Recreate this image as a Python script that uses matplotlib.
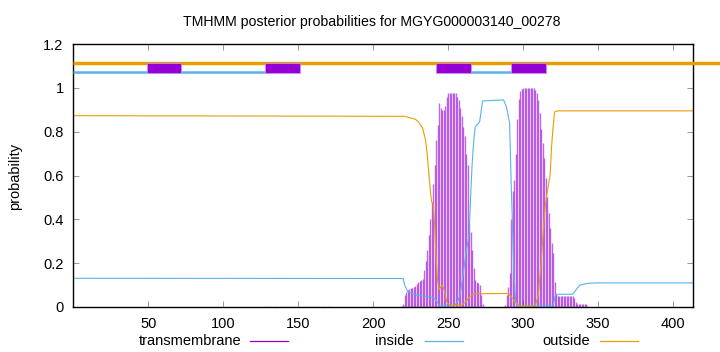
import matplotlib
matplotlib.use("Agg")
import matplotlib.pyplot as plt
from matplotlib.lines import Line2D

plt.rcParams['font.family'] = ['Liberation Sans', 'DejaVu Sans']

title = "TMHMM posterior probabilities for MGYG000003140_00278"
seq_len = 413

# Transmembrane posterior (impulses), residue positions and values
tm_pos_faint = [128, 130, 132, 134, 136, 138, 140, 142, 144, 146, 148, 150,
                152, 154, 156, 158, 160, 162, 164, 166, 168, 170, 172, 174]
tm_val_faint = [0.003, 0.003, 0.004, 0.004, 0.004, 0.004, 0.004, 0.004, 0.004, 0.004, 0.004, 0.004,
                0.004, 0.004, 0.004, 0.004, 0.004, 0.004, 0.003, 0.003, 0.003, 0.003, 0.003, 0.002]

tm_pos_1 = list(range(219, 274))
tm_val_1 = [0.005, 0.012, 0.055, 0.070, 0.078, 0.082, 0.085, 0.088, 0.092, 0.097,
            0.105, 0.112, 0.120, 0.124, 0.130, 0.170, 0.210, 0.260, 0.330, 0.400,
            0.480, 0.560, 0.650, 0.760, 0.830, 0.930, 0.910, 0.900, 0.900, 0.915,
            0.960, 0.975, 0.977, 0.977, 0.977, 0.977, 0.976, 0.960, 0.945, 0.910,
            0.870, 0.820, 0.780, 0.700, 0.650, 0.380, 0.340, 0.260, 0.180, 0.125,
            0.115, 0.110, 0.100, 0.055, 0.015]

tm_pos_2 = list(range(288, 344))
tm_val_2 = [0.010, 0.055, 0.093, 0.154, 0.400, 0.530, 0.580, 0.700, 0.860, 0.950,
            0.985, 0.995, 1.000, 1.000, 1.000, 1.000, 1.000, 1.000, 1.000, 0.998,
            0.990, 0.976, 0.945, 0.885, 0.810, 0.750, 0.680, 0.590, 0.500, 0.430,
            0.360, 0.290, 0.245, 0.116, 0.060, 0.050, 0.050, 0.050, 0.050, 0.050,
            0.050, 0.050, 0.050, 0.050, 0.050, 0.050, 0.040, 0.025, 0.015, 0.012,
            0.012, 0.012, 0.012, 0.012, 0.012, 0.005]

# Inside posterior (line)
in_pos = [1, 220, 221, 223, 228, 237, 241, 243, 244, 254, 256, 258, 260, 262, 264,
          265, 266, 267, 268, 271, 273, 287, 289, 291, 292, 293, 294, 295, 296, 320,
          321, 322, 333, 336, 338, 343, 350, 413]
in_val = [0.131, 0.130, 0.100, 0.070, 0.055, 0.047, 0.040, 0.020, 0.005, 0.005, 0.020,
          0.055, 0.150, 0.250, 0.330, 0.500, 0.650, 0.750, 0.820, 0.845, 0.940, 0.945,
          0.910, 0.840, 0.580, 0.350, 0.140, 0.030, 0.005, 0.005, 0.040, 0.058, 0.058,
          0.085, 0.100, 0.108, 0.110, 0.110]

# Outside posterior (line)
out_pos = [1, 221, 228, 230, 233, 235, 236, 237, 238, 239, 240, 241, 242, 243, 244,
           245, 246, 247, 248, 249, 251, 259, 262, 264, 266, 268, 289, 291, 293, 295,
           298, 308, 310, 311, 312, 313, 314, 315, 316, 317, 318, 319, 320, 321, 323, 413]
out_val = [0.873, 0.870, 0.857, 0.846, 0.816, 0.760, 0.700, 0.620, 0.540, 0.480, 0.473,
           0.375, 0.220, 0.120, 0.080, 0.090, 0.100, 0.085, 0.060, 0.024, 0.008, 0.008,
           0.024, 0.045, 0.055, 0.060, 0.062, 0.055, 0.040, 0.020, 0.005, 0.003, 0.050,
           0.120, 0.200, 0.300, 0.400, 0.470, 0.520, 0.560, 0.600, 0.730, 0.820, 0.890,
           0.895, 0.895]

# Predicted topology segments (top bars)
tmhelix_start = [50, 129, 243, 293]
tmhelix_end = [72, 151, 265, 315]
inside_start = [1, 266]
inside_end = [128, 292]

C_TM = '#9400D3'
C_IN = '#56B4E9'
C_OUT = '#E69F00'

fig = plt.figure(figsize=(7.2, 3.52), dpi=100)
ax = fig.add_axes([73.3 / 720, 45 / 352, 619.2 / 720, 263 / 352])

ax.set_xlim(0, seq_len)
ax.set_ylim(0, 1.2)

# outside bar across the whole sequence (extends beyond the frame)
ax.plot([0, 432], [1.112, 1.112], color=C_OUT, lw=2.5, clip_on=False,
        solid_capstyle='butt', zorder=3)
for s, e in zip(inside_start, inside_end):
    ax.plot([s - 1, e], [1.072, 1.072], color=C_IN, lw=1.8, solid_capstyle='butt', zorder=3)
ax.broken_barh([(s - 1, e - s + 1) for s, e in zip(tmhelix_start, tmhelix_end)],
               (1.067, 0.048), facecolors=C_TM, edgecolors='#c890f0', linewidth=0.6, zorder=4)

# impulses
ax.vlines(tm_pos_faint, 0, tm_val_faint, colors=C_TM, lw=0.6, alpha=0.35, zorder=2)
for pos, val in ((tm_pos_1, tm_val_1), (tm_pos_2, tm_val_2)):
    ax.vlines(pos, 0, val, colors=C_TM, lw=1.0, alpha=0.6, zorder=2)

ax.plot(in_pos, in_val, color=C_IN, lw=0.8, zorder=2.5)
ax.plot(out_pos, out_val, color=C_OUT, lw=0.8, zorder=2.5)

ax.set_xticks([50, 100, 150, 200, 250, 300, 350, 400])
ax.set_yticks([0, 0.2, 0.4, 0.6, 0.8, 1.0, 1.2])
ax.set_yticklabels(['0', '0.2', '0.4', '0.6', '0.8', '1', '1.2'])
ax.tick_params(direction='in', length=4, width=0.6, color='#888888',
               top=True, right=True, labelsize=10.5, pad=7)
for sp in ax.spines.values():
    sp.set_linewidth(1.0)
    sp.set_color('black')

fig.text(372 / 720, 1 - 22 / 352, title, ha='center', va='center', fontsize=10.2)
fig.text(15 / 720, 1 - 176 / 352, 'probability', rotation=90, ha='center', va='center',
         fontsize=10.5)

leg_y = 1 - 341 / 352
entries = [('transmembrane', 241, 250, 288, C_TM),
           ('inside', 414, 425, 463, C_IN),
           ('outside', 590, 600, 638, C_OUT)]
for label, tx, x0, x1, col in entries:
    fig.text(tx / 720, leg_y, label, ha='right', va='center', fontsize=10.5)
    fig.add_artist(Line2D([x0 / 720, x1 / 720], [leg_y, leg_y], color=col, lw=0.9,
                          transform=fig.transFigure))

fig.savefig('out.png', dpi=100)
